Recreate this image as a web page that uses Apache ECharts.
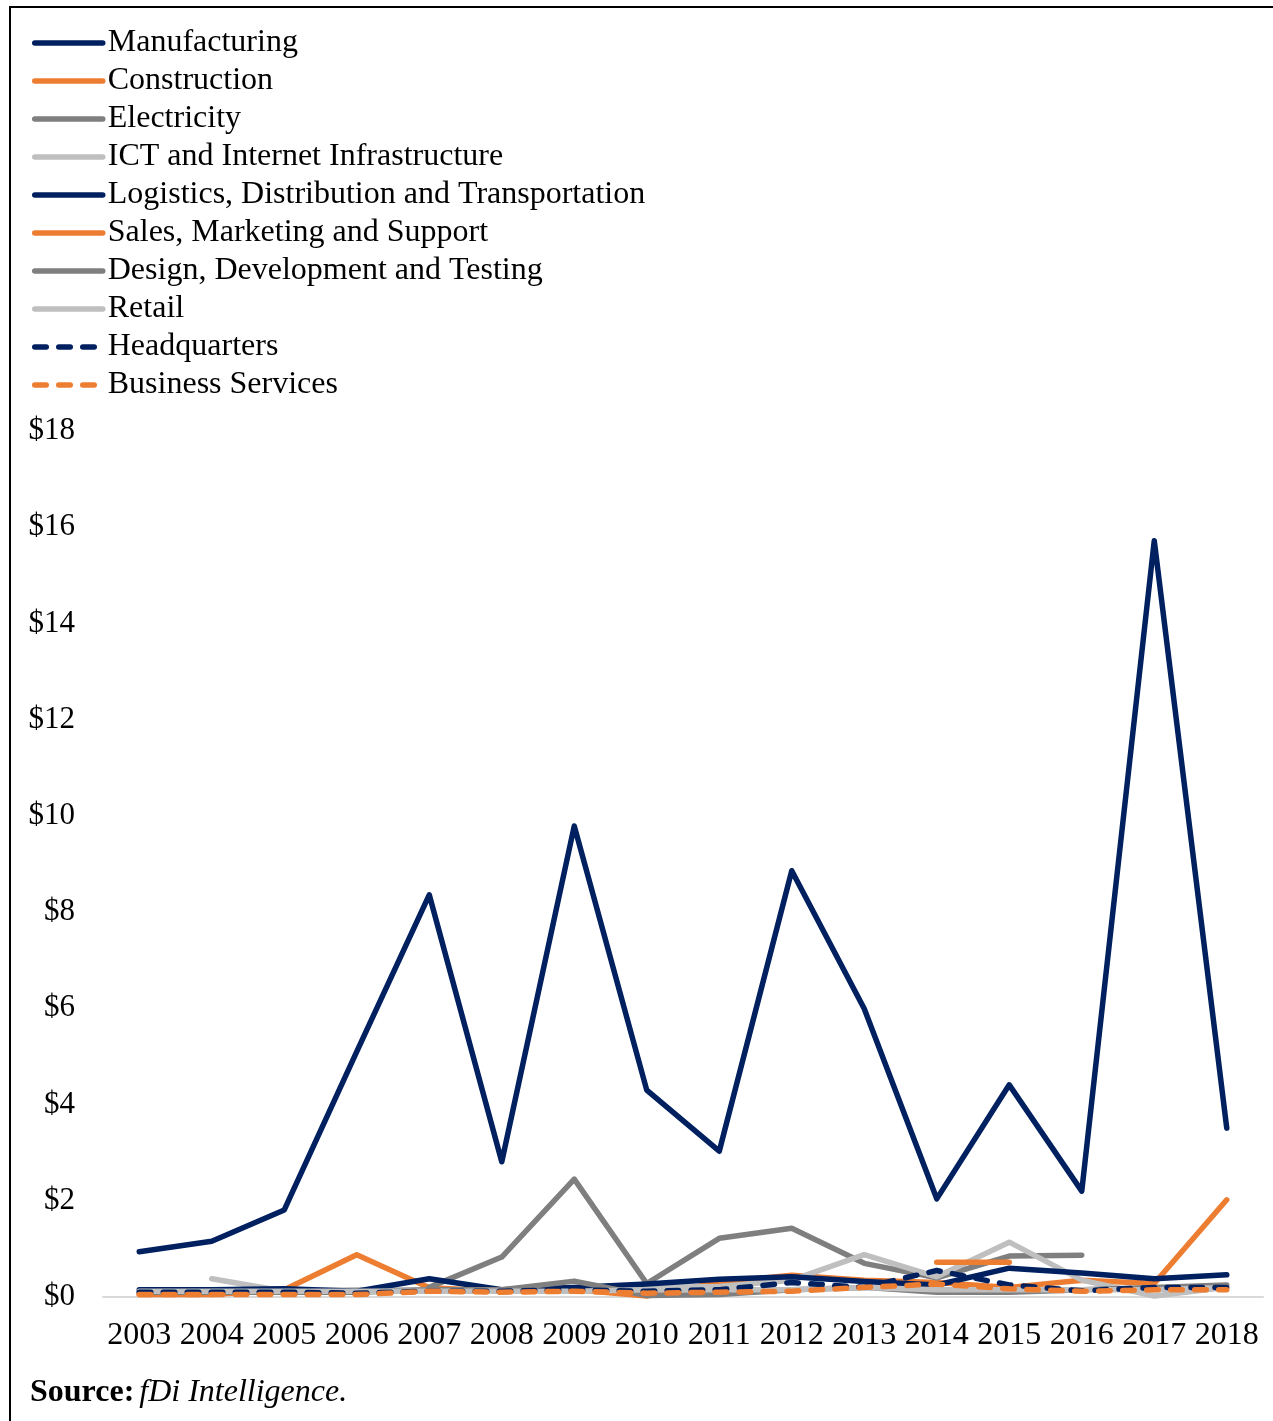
<!DOCTYPE html>
<html>
<head>
<meta charset="utf-8">
<script src="https://cdn.jsdelivr.net/npm/echarts@6/dist/echarts.min.js"></script>
<style>
  html, body { margin: 0; padding: 0; background: #ffffff; }
  #chart { position: absolute; left: 0; top: 0; width: 1273px; height: 1421px; }
  #frame { position: absolute; left: 9px; top: 6px; width: 1264px; height: 1415px;
           border-left: 2px solid #000; border-top: 2px solid #000; box-sizing: border-box; pointer-events: none; }
</style>
</head>
<body>
<div id="chart"></div>
<div id="frame"></div>
<script>
const years = ['2003','2004','2005','2006','2007','2008','2009','2010','2011','2012','2013','2014','2015','2016','2017','2018'];
const yTicks = [0, 2, 4, 6, 8, 10, 12, 14, 16, 18];

const manufacturing = [0.94, 1.16, 1.81, 5.1, 8.36, 2.81, 9.79, 4.3, 3.03, 8.86, 5.99, 2.04, 4.41, 2.2, 15.72, 3.51];
const construction  = [0.05, 0.05, 0.15, 0.88, 0.19, 0.12, 0.15, 0.02, 0.3, 0.45, 0.35, 0.3, 0.2, 0.35, 0.28, 2.02];
const electricity   = [null, null, null, null, 0.2, 0.83, 2.45, 0.28, 1.22, 1.43, 0.7, 0.4, 0.85, 0.87, null, null];
const ict           = [null, 0.38, 0.12, 0.15, 0.15, 0.15, 0.2, 0.2, 0.22, 0.35, 0.88, 0.42, 1.14, 0.35, 0.02, 0.2];
const logistics     = [0.15, 0.15, 0.17, 0.12, 0.38, 0.15, 0.2, 0.27, 0.37, 0.42, 0.32, 0.25, 0.6, 0.5, 0.38, 0.46];
const sales         = [null, null, null, null, null, null, null, null, null, null, null, 0.72, 0.72, null, null, null];
const design        = [0.1, 0.1, 0.1, 0.1, 0.15, 0.15, 0.33, 0.03, 0.05, 0.15, 0.2, 0.1, 0.1, 0.15, 0.2, 0.25];
const retail        = [0.12, 0.12, 0.12, 0.12, 0.12, 0.12, 0.12, 0.15, 0.15, 0.15, 0.2, 0.15, 0.15, 0.15, 0.15, 0.2];
const headquarters  = [0.1, 0.1, 0.1, 0.08, 0.12, 0.12, 0.15, 0.12, 0.15, 0.3, 0.2, 0.55, 0.25, 0.13, 0.2, 0.2];
const business      = [0.05, 0.05, 0.05, 0.05, 0.12, 0.1, 0.12, 0.08, 0.1, 0.12, 0.2, 0.27, 0.17, 0.12, 0.15, 0.15];

const NAVY = '#002060', ORANGE = '#ED7D31', GRAY = '#7F7F7F', LGRAY = '#BFBFBF';
const FONT = '"Liberation Serif", "Times New Roman", serif';
const LW = 5.5;

function mk(name, data, color, dashed) {
  return {
    name: name, type: 'line', data: data, symbol: 'none', connectNulls: false,
    lineStyle: { color: color, width: LW, type: dashed ? [11.5, 12.5] : 'solid', cap: 'round', join: 'round' },
    itemStyle: { color: color },
    emphasis: { disabled: true },
    animation: false
  };
}

const series = [
  mk('Manufacturing', manufacturing, NAVY),
  mk('Construction', construction, ORANGE),
  mk('Electricity', electricity, GRAY),
  mk('ICT and Internet Infrastructure', ict, LGRAY),
  mk('Logistics, Distribution and Transportation', logistics, NAVY),
  mk('Sales, Marketing and Support', sales, ORANGE),
  mk('Design, Development and Testing', design, GRAY),
  mk('Retail', retail, LGRAY),
  mk('Headquarters', headquarters, NAVY, true),
  mk('Business Services', business, ORANGE, true)
];

const chart = echarts.init(document.getElementById('chart'), null, { renderer: 'canvas' });
chart.setOption({
  backgroundColor: '#ffffff',
  animation: false,
  title: {
    left: 30, top: 1377, padding: 0,
    text: '{b|Source:} {i|fDi Intelligence.}',
    textStyle: {
      fontWeight: 'normal',
      rich: {
        b: { fontFamily: FONT, fontSize: 32, fontWeight: 'bold', color: '#000' },
        i: { fontFamily: FONT, fontSize: 32, fontStyle: 'italic', fontWeight: 'normal', color: '#000' }
      }
    }
  },
  legend: {
    orient: 'vertical', left: 32, top: 27, padding: 0,
    itemWidth: 68, itemHeight: 14, itemGap: 6,
    itemStyle: { opacity: 0 },
    lineStyle: { width: LW, cap: 'round' },
    textStyle: { fontFamily: FONT, fontSize: 32, color: '#000', lineHeight: 32 },
    selectedMode: false
  },
  grid: { left: 103, right: 10, top: 431, bottom: 124, containLabel: false },
  xAxis: {
    type: 'category', data: years, boundaryGap: true,
    axisLine: { show: true, lineStyle: { color: '#D9D9D9', width: 2 } },
    axisTick: { show: false },
    axisLabel: { interval: 0, margin: 23, fontFamily: FONT, fontSize: 32, color: '#000' }
  },
  yAxis: {
    type: 'value', min: yTicks[0], max: yTicks[yTicks.length - 1], interval: 2,
    axisLine: { show: false }, axisTick: { show: false },
    splitLine: { show: false },
    axisLabel: { margin: 28, fontFamily: FONT, fontSize: 31, color: '#000', formatter: v => '$' + v }
  },
  series: series
});
</script>
</body>
</html>
